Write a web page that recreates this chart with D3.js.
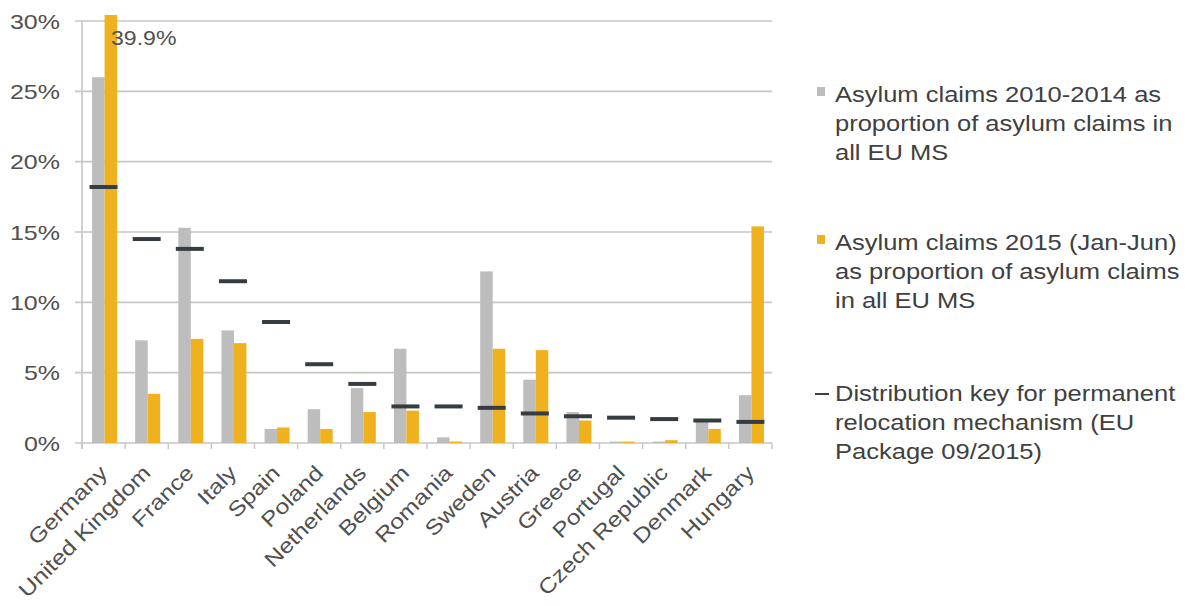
<!DOCTYPE html>
<html><head><meta charset="utf-8">
<script src="https://cdn.jsdelivr.net/npm/d3@7/dist/d3.min.js"></script>
<style>body{margin:0;background:#fff}svg{display:block}text{font-family:"Liberation Sans",Arial,sans-serif}</style>
</head><body>
<script>
const categories = ["Germany","United Kingdom","France","Italy","Spain","Poland","Netherlands","Belgium","Romania","Sweden","Austria","Greece","Portugal","Czech Republic","Denmark","Hungary"];
const claims2010_2014 = [26.0,7.3,15.3,8.0,1.0,2.4,3.9,6.7,0.4,12.2,4.5,2.2,0.1,0.1,1.7,3.4];
const claims2015 = [39.9,3.5,7.4,7.1,1.1,1.0,2.2,2.3,0.1,6.7,6.6,1.6,0.1,0.2,1.0,15.4];
const distributionKey = [18.2,14.5,13.8,11.5,8.6,5.6,4.2,2.6,2.6,2.5,2.1,1.9,1.8,1.7,1.6,1.5];
const yTicks = [0,5,10,15,20,25,30];
const legendItems = [
  ["Asylum claims 2010-2014 as","proportion of asylum claims in","all EU MS"],
  ["Asylum claims 2015 (Jan-Jun)","as proportion of asylum claims","in all EU MS"],
  ["Distribution key for permanent","relocation mechanism (EU","Package 09/2015)"]
];
const annotationText = "39.9%";

const W=1192,H=606;
const svg=d3.select("body").append("svg").attr("width",W).attr("height",H);
const x0=82,x1=772,yTop=21,yBot=443;
const x=d3.scaleBand().domain(categories).range([x0,x1]);
const y=d3.scaleLinear().domain([0,30]).range([yBot,yTop]);
const gray="#bdbdbd",gold="#f0b11e",keyCol="#353c42",txt="#404040",axTxt="#505050";

svg.append("g").selectAll("line").data(yTicks).join("line")
  .attr("x1",x0-7).attr("x2",x1).attr("y1",d=>y(d)).attr("y2",d=>y(d))
  .attr("stroke","#c6c6c6").attr("stroke-width",1.6);
svg.append("line").attr("x1",x0).attr("x2",x0).attr("y1",yTop).attr("y2",yBot+6).attr("stroke","#c6c6c6").attr("stroke-width",1.6);
svg.append("g").selectAll("line").data(d3.range(categories.length+1)).join("line")
  .attr("x1",i=>x0+i*x.bandwidth()).attr("x2",i=>x0+i*x.bandwidth())
  .attr("y1",yBot).attr("y2",yBot+6).attr("stroke","#c6c6c6").attr("stroke-width",1.4);

svg.append("g").selectAll("text").data(yTicks).join("text")
  .attr("transform",d=>`translate(60,${y(d)+7.5}) scale(1.19,1)`)
  .attr("text-anchor","end").attr("font-size",21).attr("fill",axTxt).text(d=>d+"%");

const bw=12.5;
svg.append("clipPath").attr("id","pc").append("rect").attr("x",x0).attr("y",yTop-6).attr("width",x1-x0).attr("height",yBot-yTop+6);
const bars=svg.append("g").attr("clip-path","url(#pc)");
bars.selectAll(".g").data(categories).join("rect")
  .attr("x",d=>x(d)+x.bandwidth()/2-bw+1).attr("width",bw)
  .attr("y",(d,i)=>y(claims2010_2014[i])).attr("height",(d,i)=>yBot-y(claims2010_2014[i]))
  .attr("fill",gray);
bars.selectAll(".o").data(categories).join("rect")
  .attr("x",d=>x(d)+x.bandwidth()/2+1).attr("width",bw)
  .attr("y",(d,i)=>Math.max(y(claims2015[i]),yTop-6)).attr("height",(d,i)=>yBot-Math.max(y(claims2015[i]),yTop-6))
  .attr("fill",gold);
svg.append("g").selectAll("line").data(categories).join("line")
  .attr("x1",d=>x(d)+x.bandwidth()/2-14).attr("x2",d=>x(d)+x.bandwidth()/2+14)
  .attr("y1",(d,i)=>y(distributionKey[i])).attr("y2",(d,i)=>y(distributionKey[i]))
  .attr("stroke",keyCol).attr("stroke-width",4);

svg.append("text").attr("transform",`translate(111,45) scale(1.1,1)`)
  .attr("font-size",21).attr("fill","#505050").text(annotationText);

svg.append("g").selectAll("text").data(categories).join("text")
  .attr("transform",d=>`translate(${x(d)+x.bandwidth()/2},${yBot+26}) rotate(-45) scale(1.18,1)`)
  .attr("text-anchor","end").attr("dy","0.35em").attr("font-size",21).attr("fill",axTxt).text(d=>d);

const lg=svg.append("g");
const blockY=[102,250,401];
legendItems.forEach((lines,k)=>{
  lines.forEach((s,j)=>{
    lg.append("text").attr("transform",`translate(835,${blockY[k]+j*29}) scale(1.16,1)`)
      .attr("font-size",22).attr("fill",txt).text(s);
  });
});
lg.append("rect").attr("x",817).attr("y",blockY[0]-15).attr("width",8).attr("height",9).attr("fill",gray);
lg.append("rect").attr("x",817).attr("y",blockY[1]-15).attr("width",8).attr("height",9).attr("fill",gold);
lg.append("line").attr("x1",815).attr("x2",829).attr("y1",blockY[2]-7).attr("y2",blockY[2]-7).attr("stroke",txt).attr("stroke-width",2);
</script>
</body></html>
